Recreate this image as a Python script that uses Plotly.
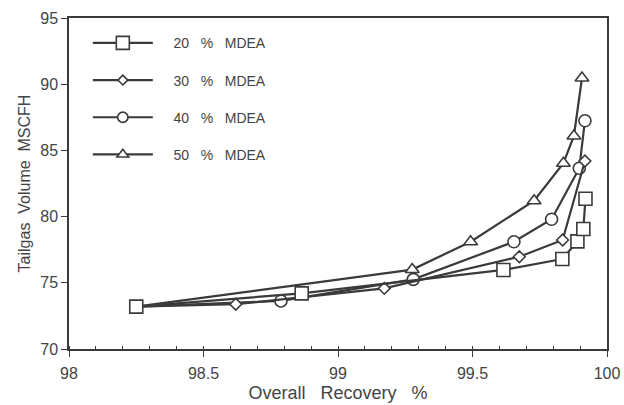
import plotly.graph_objects as go

series_names = ["20 % MDEA", "30 % MDEA", "40 % MDEA", "50 % MDEA"]
x20 = [98.25, 98.865, 99.615, 99.834, 99.89, 99.912, 99.92]
y20 = [73.2, 74.2, 75.97, 76.8, 78.13, 79.06, 81.35]
x30 = [98.25, 98.62, 99.172, 99.674, 99.835, 99.918]
y30 = [73.2, 73.38, 74.58, 76.97, 78.23, 84.2]
x40 = [98.25, 98.788, 99.28, 99.654, 99.794, 99.897, 99.918]
y40 = [73.2, 73.63, 75.26, 78.1, 79.8, 83.65, 87.24]
x50 = [98.25, 99.276, 99.493, 99.729, 99.838, 99.877, 99.907]
y50 = [73.2, 76.0, 78.1, 81.2, 84.03, 86.09, 90.47]

xticks = [98, 98.5, 99, 99.5, 100]
xtick_labels = ["98", "98.5", "99", "99.5", "100"]
yticks = [70, 75, 80, 85, 90, 95]

INK = "#3a3a3a"
TXT = "#444444"
FONT = "Liberation Sans, Arial, sans-serif"
NB = "\u00a0"

def spaced(s):
    return NB * 4 + s.replace(" ", NB * 3)

styles = [
    dict(symbol="square", size=13),
    dict(symbol="diamond", size=9),
    dict(symbol="circle", size=12),
    dict(symbol="triangle-up", size=12),
]
data = [(x20, y20), (x30, y30), (x40, y40), (x50, y50)]

fig = go.Figure()
order = [3, 2, 1, 0]
for i in order:
    xs, ys = data[i]
    st = styles[i]
    sizes = [st["size"]] * len(xs)
    if i != 0:
        sizes[0] = 0
    fig.add_trace(go.Scatter(
        x=xs, y=ys, mode="lines+markers", name=spaced(series_names[i]),
        legendgroup=str(i), legendrank=i + 1,
        line=dict(color=INK, width=2.2),
        marker=dict(symbol=st["symbol"], size=sizes, color="white", opacity=1,
                    line=dict(color=INK, width=1.6)),
    ))

fig.update_layout(
    width=624, height=405,
    margin=dict(l=69, r=17, t=18, b=56),
    paper_bgcolor="white", plot_bgcolor="white",
    font=dict(family=FONT, color=TXT),
    showlegend=True,
    legend=dict(
        x=0.035, y=0.972, xanchor="left", yanchor="top",
        bgcolor="rgba(0,0,0,0)", itemwidth=60, tracegroupgap=16,
        traceorder="grouped",
        font=dict(family=FONT, size=14, color=TXT),
    ),
    xaxis=dict(
        range=[98, 100], tickvals=xticks, ticktext=xtick_labels,
        showgrid=False, zeroline=False, showline=True, linecolor=INK,
        linewidth=1.5, mirror=True, ticks="outside", ticklen=6,
        tickcolor=INK, tickfont=dict(size=16, color=TXT),
        ticklabelstandoff=3, automargin=False,
        minor=dict(dtick=0.1, ticks="inside", ticklen=3, tickcolor=INK, showgrid=False),
        title=dict(text=NB * 3 + "Overall" + NB * 3 + "Recovery" + NB * 3 + "%",
                   font=dict(size=18, color=TXT), standoff=5),
    ),
    yaxis=dict(
        range=[70, 95], tickvals=yticks,
        showgrid=False, zeroline=False, showline=True, linecolor=INK,
        linewidth=1.5, mirror=True, ticks="outside", ticklen=6,
        tickcolor=INK, tickfont=dict(size=16, color=TXT), automargin=False,
        title=dict(text="Tailgas" + NB * 2 + "Volume" + NB * 2 + "MSCFH",
                   font=dict(size=16, color=TXT), standoff=6),
    ),
)

fig.write_html("out.html")
